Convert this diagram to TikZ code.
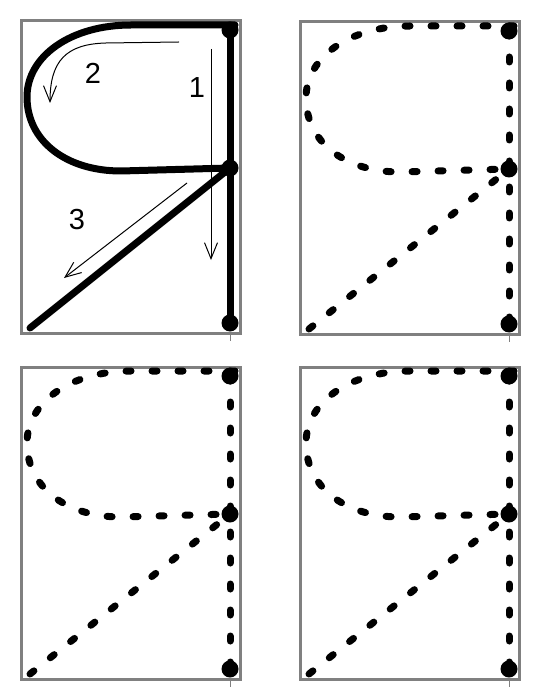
\documentclass[tikz,border=0pt]{standalone}
\usepackage{fontspec}
\setmainfont{Liberation Sans}
\usetikzlibrary{arrows.meta}
\definecolor{framegray}{RGB}{128,128,128}
\tikzset{
  frame/.style={draw=framegray, line width=3pt},
  solidglyph/.style={line width=7pt, line cap=round, line join=round},
  dashglyph/.style={line width=7pt, line cap=round, dash pattern=on 5pt off 21pt},
  dot/.style={circle, fill=black, inner sep=0pt, minimum size=17pt},
  guide/.style={line width=1pt, -{Straight Barb[length=16pt,width=13pt]}},
  num/.style={font=\fontsize{29}{29}\selectfont, inner sep=0pt}
}
\newcommand{\glyphpanel}[4]{%
  \begin{scope}[shift={(#1,#2)}]
    \draw[frame] (0,0) rectangle (219,312);
    \draw[framegray, line width=0.8pt] (209,313) -- (209,320);
    \node[dot] (#4T) at (209,9) {};
    \node[dot] (#4M) at (209,147) {};
    \node[dot] (#4B) at (209,302) {};
    \coordinate (#4S) at (214,4);
    \coordinate (#4E) at (9,307);
    \draw[#3] (#4S) -- (110,4) .. controls (50,4) and (6,35) .. (6,76)
      .. controls (6,120) and (45,150) .. (100,150) -- (#4M.center);
    \draw[#3] (#4T.center) -- (#4B.center);
    \draw[#3] (#4E) -- (#4M.center);
  \end{scope}}
\begin{document}
\begin{tikzpicture}[x=1pt, y=-1pt]
  \useasboundingbox (0,0) rectangle (540,700);
  \glyphpanel{21}{21}{solidglyph}{a}
  \glyphpanel{300}{22}{dashglyph}{b}
  \glyphpanel{21}{367}{dashglyph}{c}
  \glyphpanel{300}{367}{dashglyph}{d}
  \begin{scope}[shift={(21,21)}]
    \coordinate (g1s) at (190,28);
    \coordinate (g1e) at (190,239);
    \coordinate (g2s) at (158,21);
    \coordinate (g2e) at (29,82);
    \coordinate (g3s) at (166,162);
    \coordinate (g3e) at (43,257);
    \draw[guide] (g1s) -- (g1e);
    \draw[guide] (g2s) -- (85,22) .. controls (45,23) and (29,40) .. (g2e);
    \draw[guide] (g3s) -- (g3e);
    \node[num] (n2) at (72,52) {2};
    \node[num] (n1) at (176,67) {1};
    \node[num] (n3) at (56,199) {3};
  \end{scope}
\end{tikzpicture}
\end{document}
